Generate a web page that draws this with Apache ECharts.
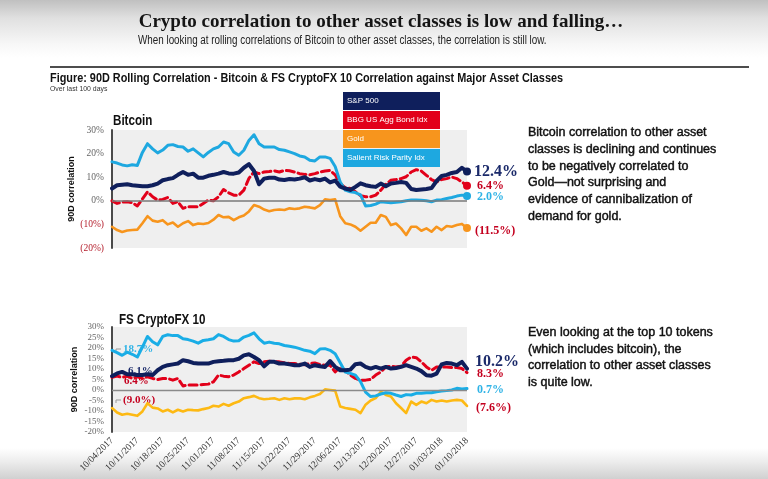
<!DOCTYPE html>
<html>
<head>
<meta charset="utf-8">
<script src="https://cdn.jsdelivr.net/npm/echarts@6/dist/echarts.min.js"></script>
<style>
html,body{margin:0;padding:0;}
#chart{width:768px;height:479px;background:linear-gradient(to bottom,#c0c0c0 0px,#e0e0e0 18px,#f8f8f8 45px,#ffffff 58px,#ffffff 448px,#ececec 462px,#d0d0d0 479px);}
</style>
</head>
<body>
<div id="chart"></div>
<script>
// Categories: business days 10/04/2017 – 01/10/2018
const dates = [
'10/04/2017','10/05/2017','10/06/2017','10/09/2017','10/10/2017','10/11/2017','10/12/2017','10/13/2017','10/16/2017','10/17/2017',
'10/18/2017','10/19/2017','10/20/2017','10/23/2017','10/24/2017','10/25/2017','10/26/2017','10/27/2017','10/30/2017','10/31/2017',
'11/01/2017','11/02/2017','11/03/2017','11/06/2017','11/07/2017','11/08/2017','11/09/2017','11/10/2017','11/13/2017','11/14/2017',
'11/15/2017','11/16/2017','11/17/2017','11/20/2017','11/21/2017','11/22/2017','11/23/2017','11/24/2017','11/27/2017','11/28/2017',
'11/29/2017','11/30/2017','12/01/2017','12/04/2017','12/05/2017','12/06/2017','12/07/2017','12/08/2017','12/11/2017','12/12/2017',
'12/13/2017','12/14/2017','12/15/2017','12/18/2017','12/19/2017','12/20/2017','12/21/2017','12/22/2017','12/25/2017','12/26/2017',
'12/27/2017','12/28/2017','12/29/2017','01/01/2018','01/02/2018','01/03/2018','01/04/2018','01/05/2018','01/08/2018','01/09/2018',
'01/10/2018'];

const seriesNames = ['S&P 500', 'BBG US Agg Bond Idx', 'Gold', 'Salient Risk Parity Idx'];

// Bitcoin panel (values in %)
const btcSP = [5.2,6.6,6.8,7.0,6.6,6.4,6.2,6.2,6.6,7.3,
 8.7,9.2,9.6,11.0,12.2,11.0,11.5,9.8,9.8,10.6,
 11.0,11.5,12.2,11.6,11.5,12.0,14.0,15.5,12.6,7.0,
 9.4,9.8,9.8,9.0,8.8,9.2,9.0,9.4,10.0,8.6,
 9.2,8.7,9.4,7.8,8.6,6.0,5.2,4.6,5.9,7.4,
 6.6,6.2,5.9,7.3,6.2,7.3,7.6,8.0,7.6,5.0,
 4.6,4.8,5.0,5.4,8.4,10.5,11.0,11.8,12.2,14.0,
 12.4];
const btcBond = [0.0,-1.1,-0.6,-0.4,-0.8,-2.2,0.8,3.8,1.7,0.3,
 0.6,1.4,-1.1,-0.4,-3.2,-2.5,-2.5,-2.5,-1.1,0.3,
 0.0,1.7,4.8,3.4,2.4,2.4,4.5,9.5,12.2,11.5,
 12.2,12.4,12.7,12.2,12.9,12.7,12.2,11.5,11.2,11.0,
 11.5,12.2,12.6,12.9,11.0,7.3,5.6,5.2,3.8,2.2,
 1.7,1.7,2.4,4.5,7.0,8.7,9.0,9.4,10.2,12.2,
 13.2,12.6,10.8,9.0,8.0,9.0,9.4,10.1,9.4,8.0,
 6.4];
const btcGold = [-11.0,-12.4,-13.2,-12.6,-12.4,-12.2,-9.5,-6.5,-8.4,-8.9,
 -8.2,-10.0,-9.2,-11.0,-9.5,-8.6,-10.3,-9.6,-9.8,-9.4,
 -8.0,-6.0,-7.0,-6.8,-8.2,-7.0,-6.2,-4.5,-1.8,-2.5,
 -3.7,-4.4,-3.9,-3.7,-3.9,-3.2,-3.5,-3.2,-2.5,-2.8,
 -3.2,-1.8,0.6,0.3,0.6,-6.5,-9.5,-10.0,-11.0,-12.7,
 -11.0,-9.3,-9.3,-6.0,-6.8,-10.3,-9.6,-11.7,-14.5,-11.0,
 -11.0,-12.7,-11.7,-13.1,-11.0,-12.4,-10.7,-11.0,-10.3,-9.8,
 -11.5];
const btcRP = [16.5,16.0,15.2,14.8,15.3,15.0,20.5,24.2,22.0,20.3,
 21.5,23.5,23.8,23.0,22.8,21.0,22.0,20.3,18.6,20.5,
 22.0,22.8,24.9,24.2,20.7,19.3,21.4,25.6,28.0,24.2,
 22.8,22.8,22.8,21.7,21.4,20.7,20.0,19.0,18.6,17.2,
 16.9,18.6,18.6,18.0,14.5,8.0,4.5,3.8,3.5,2.5,
 -2.2,-2.0,-1.4,-0.4,-0.6,-0.8,-0.6,-0.4,0.0,0.3,
 0.3,0.2,0.0,-0.4,0.3,0.5,1.0,1.4,2.0,2.4,
 2.0];

// FS CryptoFX 10 panel (values in %)
const fxSP = [6.6,7.9,8.6,7.5,7.5,7.1,7.1,7.5,7.1,9.4,
 11.0,11.8,12.2,12.6,14.2,13.7,12.9,12.6,12.6,12.6,
 13.4,13.7,13.9,14.2,14.2,14.9,16.5,17.0,15.7,14.2,
 11.3,13.4,13.4,12.6,12.6,12.2,11.8,11.8,12.6,11.0,
 11.8,11.3,11.0,13.8,11.0,9.4,9.4,9.7,12.3,12.6,
 11.0,10.2,11.0,10.2,11.0,10.2,10.5,11.0,11.8,11.0,
 10.2,9.0,7.0,6.8,7.8,12.2,12.9,12.6,11.8,13.4,
 10.2];
const fxBond = [6.0,6.6,6.0,6.6,5.5,6.3,5.5,6.3,5.5,5.0,
 5.5,5.5,4.7,5.5,1.9,2.4,2.4,2.4,2.6,2.8,
 3.9,7.1,6.6,6.3,7.1,8.6,10.2,11.8,13.4,12.6,
 13.4,13.7,13.4,13.4,12.9,12.6,12.6,12.3,12.0,12.6,
 12.9,12.1,11.8,11.8,8.6,11.0,9.4,7.1,5.5,4.7,
 4.7,5.0,7.1,8.6,11.0,11.3,11.0,11.3,14.2,15.7,
 15.4,13.4,11.0,9.4,11.0,11.0,11.0,10.7,10.7,10.2,
 8.3];
const fxGold = [-8.6,-10.7,-11.8,-11.3,-11.8,-12.3,-10.2,-6.3,-8.4,-8.8,
 -10.2,-9.4,-10.7,-9.4,-10.2,-9.4,-9.6,-9.7,-9.1,-8.6,
 -7.5,-7.9,-6.6,-7.5,-6.3,-5.5,-3.9,-3.4,-2.8,-3.9,
 -4.4,-4.2,-3.9,-4.7,-3.9,-4.4,-4.0,-3.9,-4.4,-3.5,
 -2.8,-1.9,0.3,0.0,-0.3,-7.9,-8.6,-9.0,-9.4,-11.0,
 -7.0,-5.0,-3.9,-0.8,-2.4,-3.1,-6.3,-8.6,-11.0,-5.5,
 -7.1,-5.5,-6.3,-4.7,-5.5,-5.0,-5.5,-5.0,-4.7,-5.0,
 -7.6];
const fxRP = [18.9,17.8,16.5,18.0,17.0,15.7,20.4,25.5,23.0,21.5,
 25.5,26.3,25.9,25.9,24.4,24.0,23.3,22.3,23.6,23.9,
 24.4,26.4,25.5,24.0,23.3,23.5,25.2,26.0,27.2,24.4,
 22.3,22.8,22.3,22.0,21.2,20.8,20.4,19.7,18.9,18.5,
 17.3,19.5,19.7,18.9,17.3,13.0,8.6,7.9,7.1,4.0,
 -1.0,-3.1,-2.8,-1.9,-1.3,-1.6,-2.4,-3.1,-2.2,-2.4,
 -1.6,-1.6,-1.3,-1.3,-0.8,-0.5,-0.3,0.0,0.8,0.5,
 0.7];

// First-day labels in the CryptoFX panel
const fxStartLabels = ['18.7%', '6.1%', '6.4%', '(9.0%)'];

const C = {
  navy: '#0f1f5c', red: '#e2001a', goldTop: '#f7951d', goldBot: '#fdb913',
  blueTop: '#1ea8e0', blueBot: '#19ade6', labRed: '#c4001f', labNavy: '#1b2a6a', labBlue: '#2fb3e6'
};

const pct = v => (v < 0 ? '(' + (-v).toFixed(1) + '%)' : v.toFixed(1) + '%');
const lastIdx = dates.length - 1;

function mk(name, data, idx, color, width, dashed, lab, dot, z) {
  return {
    name: name, type: 'line', xAxisIndex: idx, yAxisIndex: idx, data: data, z: z,
    smooth: false, animation: false,
    showSymbol: dot, showAllSymbol: true, symbol: 'circle',
    symbolSize: (v, p) => (dot && p.dataIndex === lastIdx ? 8 : 0),
    itemStyle: { color: color },
    lineStyle: { color: color, width: width, type: dashed ? [8, 4] : 'solid', cap: 'round', join: 'round' },
    emphasis: { disabled: true },
    endLabel: {
      show: true, formatter: p => pct(p.value), distance: lab.dist,
      color: lab.color, fontSize: lab.size, fontWeight: 'bold', fontFamily: 'Liberation Serif',
      offset: [0, lab.dy]
    }
  };
}

const zeroLine = {
  silent: true, symbol: 'none', label: { show: false }, animation: false,
  lineStyle: { color: '#7a7a7a', width: 1.5, type: 'solid' }, data: [{ yAxis: 0 }]
};

const series = [
  mk(seriesNames[2], btcGold, 0, C.goldTop, 2.6, false, { color: C.labRed, size: 12, dy: 3, dist: 8 }, true, 2),
  mk(seriesNames[1], btcBond, 0, C.red, 3, true, { color: C.labRed, size: 12, dy: 0, dist: 10 }, true, 3),
  mk(seriesNames[3], btcRP, 0, C.blueTop, 3, false, { color: C.labBlue, size: 12, dy: 1, dist: 10 }, true, 4),
  mk(seriesNames[0], btcSP, 0, C.navy, 4, false, { color: C.labNavy, size: 16, dy: 0, dist: 7 }, true, 5),
  mk(seriesNames[2], fxGold, 1, C.goldBot, 2.6, false, { color: C.labRed, size: 12, dy: 2, dist: 9 }, false, 2),
  mk(seriesNames[1], fxBond, 1, C.red, 3, true, { color: C.labRed, size: 12, dy: 1, dist: 10 }, false, 3),
  mk(seriesNames[3], fxRP, 1, C.blueBot, 3, false, { color: C.labBlue, size: 12, dy: 1, dist: 10 }, false, 4),
  mk(seriesNames[0], fxSP, 1, C.navy, 4, false, { color: C.labNavy, size: 16, dy: -7, dist: 8 }, false, 5)
];
series[0].markLine = zeroLine;
series[4].markLine = Object.assign({}, zeroLine, { lineStyle: { color: '#8a8a8a', width: 1.3, type: 'solid' } });

const legendColors = [C.navy, C.red, C.goldTop, C.blueTop];

function txt(x, y, text, font, fill, opt) {
  opt = opt || {};
  const st = { x: 0, y: 0, text: text, font: font, fill: fill, align: opt.align || 'left',
      verticalAlign: opt.va || 'middle', lineHeight: opt.lh };
  if (opt.stroke) { st.stroke = fill; st.lineWidth = opt.stroke; }
  return { type: 'text', x: x, y: y, scaleX: opt.sx || 1, z: opt.z || 1, silent: true, style: st };
}

const yName = {
  name: '90D correlation', nameLocation: 'middle', nameGap: 33, nameRotate: 90,
  nameTextStyle: { fontFamily: 'Liberation Sans', fontWeight: 'bold', fontSize: 9, color: '#111' }
};

const option = {
  animation: false,
  textStyle: { fontFamily: 'Liberation Sans' },
  grid: [
    { left: 112, top: 130, width: 355, height: 118, show: true, backgroundColor: '#efefef', borderWidth: 0 },
    { left: 112, top: 327, width: 355, height: 105, show: true, backgroundColor: '#efefef', borderWidth: 0 }
  ],
  legend: {
    orient: 'vertical', left: 338, top: 92, itemGap: 1, itemWidth: 0, itemHeight: 0, padding: 0,
    selectedMode: false, icon: 'rect',
    textStyle: { color: '#ffffff', fontSize: 8, fontFamily: 'Liberation Sans', width: 89, lineHeight: 9, padding: [5, 4, 4, 4] },
    data: seriesNames.map((n, i) => ({ name: n, textStyle: { backgroundColor: legendColors[i] } }))
  },
  xAxis: [
    { type: 'category', gridIndex: 0, data: dates, boundaryGap: false,
      axisLine: { show: false }, axisTick: { show: false }, axisLabel: { show: false }, splitLine: { show: false } },
    { type: 'category', gridIndex: 1, data: dates, boundaryGap: false,
      axisLine: { show: false }, axisTick: { show: false }, splitLine: { show: false },
      axisLabel: { interval: 4, rotate: 45, margin: 7, fontSize: 9.5, fontFamily: 'Liberation Serif', color: '#333' } }
  ],
  yAxis: [
    Object.assign({ type: 'value', gridIndex: 0, min: -20, max: 30, interval: 10,
      axisLine: { show: true, onZero: false, lineStyle: { color: '#4a4a4a', width: 2 } },
      axisTick: { show: false }, splitLine: { show: false },
      axisLabel: { margin: 8, fontSize: 9.5, fontFamily: 'Liberation Serif',
        formatter: v => (v < 0 ? '(' + (-v) + '%)' : v + '%'),
        color: v => (Number(v) < 0 ? '#b5202e' : '#666') } }, yName),
    Object.assign({ type: 'value', gridIndex: 1, min: -20, max: 30, interval: 5,
      axisLine: { show: true, onZero: false, lineStyle: { color: '#4a4a4a', width: 2 } },
      axisTick: { show: false }, splitLine: { show: false },
      axisLabel: { margin: 8, fontSize: 9, fontFamily: 'Liberation Serif', color: '#666',
        formatter: v => v + '%' } }, yName)
  ],
  graphic: [
    txt(381, 22, 'Crypto correlation to other asset classes is low and falling…', 'bold 19px "Liberation Serif"', '#151515', { align: 'center' }),
    txt(138, 41, 'When looking at rolling correlations of Bitcoin to other asset classes, the correlation is still low.', '12px "Liberation Sans"', '#222', { sx: 0.82 }),
    { type: 'line', silent: true, shape: { x1: 50, y1: 67, x2: 749, y2: 67 }, style: { stroke: '#4d4d4d', lineWidth: 2 } },
    txt(50, 78.5, 'Figure: 90D Rolling Correlation - Bitcoin & FS CryptoFX 10 Correlation against Major Asset Classes', 'bold 12.5px "Liberation Sans"', '#111', { sx: 0.87 }),
    txt(50, 89, 'Over last 100 days', '8px "Liberation Sans"', '#333', { sx: 0.86 }),
    txt(113, 121, 'Bitcoin', 'bold 14px "Liberation Sans"', '#111', { sx: 0.83 }),
    txt(119, 320, 'FS CryptoFX 10', 'bold 14px "Liberation Sans"', '#111', { sx: 0.83 }),
    txt(528, 124.5, 'Bitcoin correlation to other asset\nclasses is declining and continues\nto be negatively correlated to\nGold—not surprising and\nevidence of cannibalization of\ndemand for gold.', '12.5px "Liberation Sans"', '#111', { va: 'top', lh: 16.7, stroke: 0.45 }),
    txt(528, 324, 'Even looking at the top 10 tokens\n(which includes bitcoin), the\ncorrelation to other asset classes\nis quite low.', '12.5px "Liberation Sans"', '#111', { va: 'top', lh: 16.7, stroke: 0.45 }),
    txt(123, 349, fxStartLabels[0], 'bold 11px "Liberation Serif"', C.labBlue),
    txt(128, 371, fxStartLabels[1], 'bold 11px "Liberation Serif"', C.labNavy),
    txt(124, 381, fxStartLabels[2], 'bold 11px "Liberation Serif"', C.labRed),
    txt(123, 400, fxStartLabels[3], 'bold 11px "Liberation Serif"', C.labRed),
    { type: 'polyline', silent: true, z: 1, shape: { points: [[116, 353], [116, 349], [121, 349]] }, style: { stroke: '#999', lineWidth: 1, fill: null } },
    { type: 'polyline', silent: true, z: 1, shape: { points: [[116, 403], [116, 400], [121, 400]] }, style: { stroke: '#999', lineWidth: 1, fill: null } }
  ],
  series: series
};

const chart = echarts.init(document.getElementById('chart'), null, { renderer: 'canvas' });
chart.setOption(option);
</script>
</body>
</html>
